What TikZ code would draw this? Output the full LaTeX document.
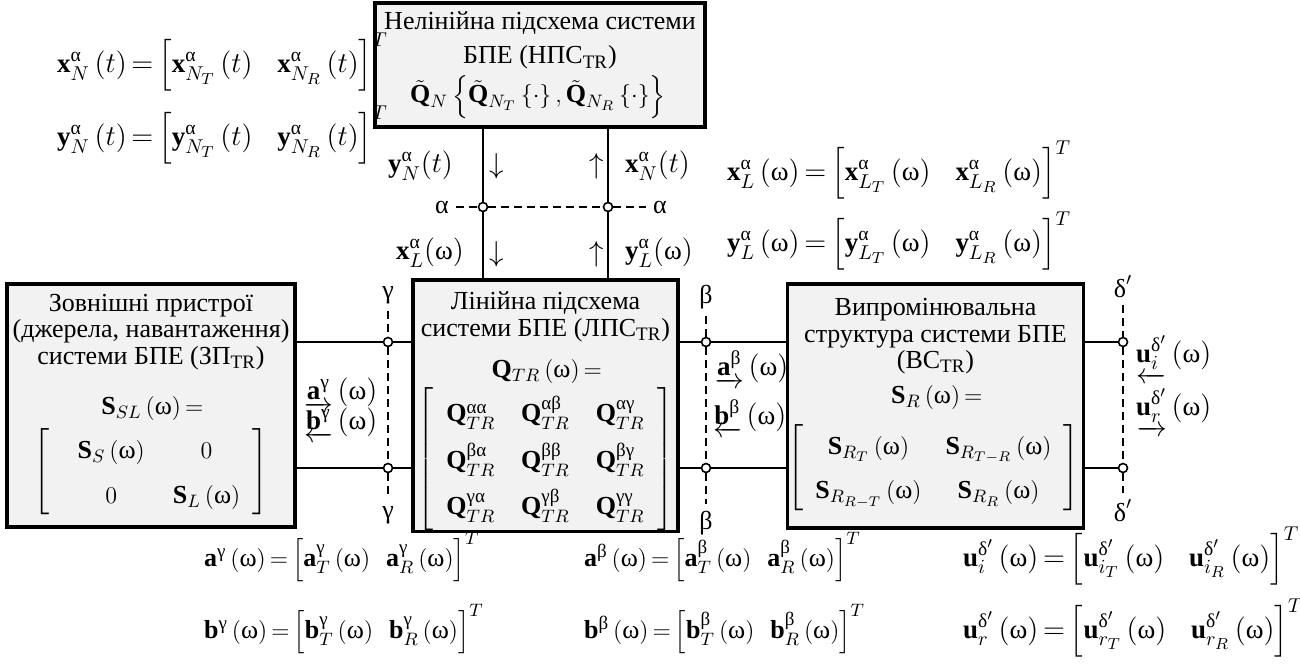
\documentclass[tikz,border=0pt]{standalone}
\usepackage{amsmath}
\usepackage{fontspec}
\setmainfont{Liberation Serif}
\usepackage{tikz}

\DeclareMathSizes{13}{13}{9.5}{7.5}
\DeclareMathSizes{13.5}{13.5}{9.8}{7.8}
\newcommand{\alf}{\text{α}}
\newcommand{\bet}{\text{β}}
\newcommand{\gam}{\text{γ}}
\newcommand{\dlt}{\text{δ}}
\newcommand{\omg}{\text{ω}}
\newcommand{\trsub}{\textsubscript{TR}}
\newcommand{\eqto}{\mskip-2mu=\mskip-2mu}
\newcommand{\vecrow}[4]{#1_{#3}^{#2}\left(#4\right)\eqto\Bigl[#1_{#3_T}^{#2}\left(#4\right)\hspace{10pt}#1_{#3_R}^{#2}\left(#4\right)\Bigr]^T}
\newcommand{\wvrow}[3]{#1^{#2}\left(#3\right)\eqto\Bigl[#1_T^{#2}\left(#3\right)\hspace{6pt}#1_R^{#2}\left(#3\right)\Bigr]^T}

\begin{document}
\begin{tikzpicture}[x=0.5pt,y=-0.5pt,
    font=\fontsize{13}{13.3}\selectfont,
    blk/.style={draw,line width=1.6pt,fill=black!5,align=center,inner sep=0pt},
    port/.style={circle,draw,fill=white,line width=0.8pt,inner sep=0pt,minimum size=4.5pt},
    wire/.style={line width=0.8pt},
    cut/.style={line width=0.6pt,dash pattern=on 4pt off 2.5pt},
    big/.style={font=\fontsize{13.5}{14}\selectfont}]
  \useasboundingbox (0,0) rectangle (1300,665);

  \node[blk,minimum width=165pt,minimum height=62pt] (nps) at (540,65)
    {Нелінійна підсхема системи\\[4pt] БПЕ (НПС\trsub)\\[2pt]
     $\tilde{\mathbf{Q}}_N\left\{\tilde{\mathbf{Q}}_{N_T}\left\{\cdot\right\},\tilde{\mathbf{Q}}_{N_R}\left\{\cdot\right\}\right\}\rule[-4pt]{0pt}{1pt}$};
  \node[blk,minimum width=144pt,minimum height=121.5pt] (zp) at (151,405.5)
    {Зовнішні пристрої\\ (джерела, навантаження)\\ системи БПЕ (ЗП\trsub)\\[12pt]
     $\mathbf{S}_{SL}\left(\omg\right)\eqto$\\[2pt]
     $\def\arraystretch{1.7}\left[\begin{array}{@{\hspace{14pt}}c@{\hspace{14pt}}c@{\hspace{6pt}}}
       \mathbf{S}_S\left(\omg\right) & 0\\ 0 & \mathbf{S}_L\left(\omg\right)\end{array}\right]$};
  \node[blk,minimum width=132.5pt,minimum height=121.5pt] (lps) at (545.5,405.5)
    {\rule{0pt}{15pt}Лінійна підсхема\\ системи БПЕ (ЛПС\trsub)\\[7pt]
     $\mathbf{Q}_{TR}\left(\omg\right)\eqto$\\[1pt]
     $\def\arraystretch{1.75}\arraycolsep=6.5pt\left[\begin{array}{ccc}
       \mathbf{Q}_{TR}^{\alf\alf} & \mathbf{Q}_{TR}^{\alf\bet} & \mathbf{Q}_{TR}^{\alf\gam}\\
       \mathbf{Q}_{TR}^{\bet\alf} & \mathbf{Q}_{TR}^{\bet\bet} & \mathbf{Q}_{TR}^{\bet\gam}\\
       \mathbf{Q}_{TR}^{\gam\alf} & \mathbf{Q}_{TR}^{\gam\bet} & \mathbf{Q}_{TR}^{\gam\gam}\end{array}\right]$};
  \node[blk,minimum width=143.5pt,minimum height=122pt] (vs) at (935.5,406)
    {Випромінювальна\\ структура системи БПЕ\\ (ВС\trsub)\\[4pt]
     $\mathbf{S}_R\left(\omg\right)\eqto$\\[6pt]
     $\def\arraystretch{1.67}\arraycolsep=6pt\left[\begin{array}{cc}
       \mathbf{S}_{R_T}\left(\omg\right) & \mathbf{S}_{R_{T-R}}\left(\omg\right)\\
       \mathbf{S}_{R_{R-T}}\left(\omg\right) & \mathbf{S}_{R_R}\left(\omg\right)\end{array}\right]\rule[-20pt]{0pt}{1pt}$};

  \foreach \n/\x/\y in {a1/483/207,a2/608/207,g1/388/342,g2/388/468,
      b1/706/342,b2/706/468,d1/1123/342,d2/1123/468}
    \node[port] (\n) at (\x,\y) {};

  \node (al1) at (442,207) {α};
  \node (al2) at (660,207) {α};
  \node (gt) at (388,295) {γ};
  \node (gb) at (388,515) {γ};
  \node (bt) at (706,297) {β};
  \node (bbt) at (706,523) {β};
  \node (dt) at (1123,287) {$\dlt'$};
  \node (db) at (1123,511) {$\dlt'$};

  \draw[cut] (al1) -- (a1) (a1) -- (a2) (a2) -- (al2);
  \draw[cut] (gt) -- (g1) (g1) -- (g2) (g2) -- (gb);
  \draw[cut] (bt) -- (b1) (b1) -- (b2) (b2) -- (bbt);
  \draw[cut] (dt) -- (d1) (d1) -- (d2) (d2) -- (db);

  \draw[wire] (nps.south -| a1) -- (a1) (a1) -- (lps.north -| a1);
  \draw[wire] (nps.south -| a2) -- (a2) (a2) -- (lps.north -| a2);
  \foreach \p in {1,2} {
    \draw[wire] (zp.east |- g\p) -- (g\p) (g\p) -- (lps.west |- g\p);
    \draw[wire] (lps.east |- b\p) -- (b\p) (b\p) -- (vs.west |- b\p);
    \draw[wire] (vs.east |- d\p) -- (d\p);
  }

  \node[big,anchor=base east] (yNt) at (460,172) {$\mathbf{y}_N^{\alf}(t)$};
  \node[big,anchor=base west] (xNt) at (618,172) {$\mathbf{x}_N^{\alf}(t)$};
  \node[big,anchor=base east] (xLw) at (471,259) {$\mathbf{x}_L^{\alf}(\omg)$};
  \node[big,anchor=base west] (yLw) at (618,259) {$\mathbf{y}_L^{\alf}(\omg)$};
  \node[big] (dn1) at (497,166) {$\downarrow$};
  \node[big] (up1) at (597,166) {$\uparrow$};
  \node[big] (dn2) at (497,254) {$\downarrow$};
  \node[big] (up2) at (597,254) {$\uparrow$};

  \node[big,anchor=base west] (ag) at (297,399) {$\underrightarrow{\mathbf{a}^{\gam}}\left(\omg\right)$};
  \node[big,anchor=base west] (bg) at (297,429) {$\underleftarrow{\mathbf{b}^{\gam}}\left(\omg\right)$};
  \node[big,anchor=base west] (ab) at (708,375) {$\underrightarrow{\mathbf{a}^{\bet}}\left(\omg\right)$};
  \node[big,anchor=base west] (bb) at (706,424) {$\underleftarrow{\mathbf{b}^{\bet}}\left(\omg\right)$};
  \node[big,anchor=base west] (ui) at (1129,362) {$\underleftarrow{\mathbf{u}_i^{\dlt'}\rule[-4pt]{0pt}{1pt}}\left(\omg\right)$};
  \node[big,anchor=base west] (ur) at (1129,415) {$\underrightarrow{\mathbf{u}_r^{\dlt'}\rule[-4pt]{0pt}{1pt}}\left(\omg\right)$};

  \node[big,anchor=base west] (eqxN) at (50,72) {$\vecrow{\mathbf{x}}{\alf}{N}{t}$};
  \node[big,anchor=base west] (eqyN) at (50,145) {$\vecrow{\mathbf{y}}{\alf}{N}{t}$};
  \node[big,anchor=base west] (eqxL) at (720,180) {$\vecrow{\mathbf{x}}{\alf}{L}{\omg}$};
  \node[big,anchor=base west] (eqyL) at (720,251) {$\vecrow{\mathbf{y}}{\alf}{L}{\omg}$};
  \node[anchor=base west] (eqag) at (197,566) {$\wvrow{\mathbf{a}}{\gam}{\omg}$};
  \node[anchor=base west] (eqbg) at (197,638) {$\wvrow{\mathbf{b}}{\gam}{\omg}$};
  \node[anchor=base west] (eqab) at (577,566) {$\wvrow{\mathbf{a}}{\bet}{\omg}$};
  \node[anchor=base west] (eqbb) at (577,638) {$\wvrow{\mathbf{b}}{\bet}{\omg}$};
  \node[big,anchor=base west] (equi) at (956,566) {$\vecrow{\mathbf{u}}{\dlt'}{i}{\omg}$};
  \node[big,anchor=base west] (equr) at (956,638) {$\vecrow{\mathbf{u}}{\dlt'}{r}{\omg}$};
\end{tikzpicture}
\end{document}
